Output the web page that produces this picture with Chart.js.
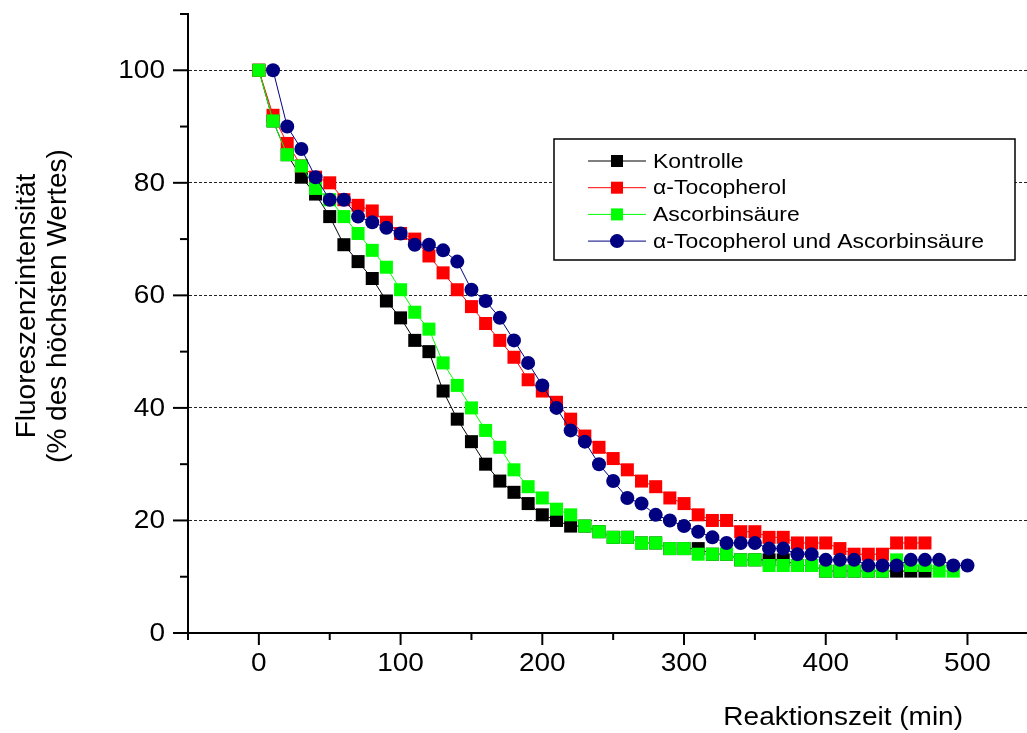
<!DOCTYPE html>
<html lang="de">
<head>
<meta charset="utf-8">
<title>Fluoreszenzintensität</title>
<script src="https://cdn.jsdelivr.net/npm/chart.js@4.4.1/dist/chart.umd.min.js"></script>
<style>
  html, body { margin: 0; padding: 0; background: #fff; overflow: hidden; }
  #wrap { width: 1027px; height: 733px; }
</style>
</head>
<body>
<div id="wrap"><canvas id="fluoChart" width="1027" height="733"></canvas></div>
<script>
// Reaktionszeit in min
const zeit = [0, 10, 20, 30, 40, 50, 60, 70, 80, 90,
  100, 110, 120, 130, 140, 150, 160, 170, 180, 190,
  200, 210, 220, 230, 240, 250, 260, 270, 280, 290,
  300, 310, 320, 330, 340, 350, 360, 370, 380, 390,
  400, 410, 420, 430, 440, 450, 460, 470, 480, 490, 500];

const kontrolle = [100, 91, 85, 81, 78, 74, 69, 66, 63, 59,
  56, 52, 50, 43, 38, 34, 30, 27, 25, 23,
  21, 20, 19, 19, 18, 17, 17, 16, 16, 15,
  15, 15, 14, 14, 13, 13, 13, 13, 12, 12,
  11, 11, 11, 11, 11, 11, 11, 11, null, null, null];

const tocopherol = [100, 92, 87, 83, 81, 80, 77, 76, 75, 73,
  71, 70, 67, 64, 61, 58, 55, 52, 49, 45,
  43, 41, 38, 35, 33, 31, 29, 27, 26, 24,
  23, 21, 20, 20, 18, 18, 17, 17, 16, 16,
  16, 15, 14, 14, 14, 16, 16, 16, null, null, null];

const ascorbin = [100, 91, 85, 83, 79, 77, 74, 71, 68, 65,
  61, 57, 54, 48, 44, 40, 36, 33, 29, 26,
  24, 22, 21, 19, 18, 17, 17, 16, 16, 15,
  15, 14, 14, 14, 13, 13, 12, 12, 12, 12,
  11, 11, 11, 11, 11, 13, 12, 12, 11, 11, null];

const tocoUndAscorbin = [null, 100, 90, 86, 81, 77, 77, 74, 73, 72,
  71, 69, 69, 68, 66, 61, 59, 56, 52, 48,
  44, 40, 36, 34, 30, 27, 24, 23, 21, 20,
  19, 18, 17, 16, 16, 16, 15, 15, 14, 14,
  13, 13, 13, 12, 12, 12, 13, 13, 13, 12, 12];

const serienNamen = ['Kontrolle', 'α-Tocopherol', 'Ascorbinsäure', 'α-Tocopherol und Ascorbinsäure'];
const serienFarben = ['#000000', '#ff0000', '#00ff00', '#000080'];
const serienSymbole = ['rect', 'rect', 'rect', 'circle'];

const xHauptTicks = [0, 100, 200, 300, 400, 500];
const xNebenTicks = [-50, 50, 150, 250, 350, 450];
const yHauptTicks = [0, 20, 40, 60, 80, 100];
const yNebenTicks = [10, 30, 50, 70, 90, 110];

const xTitel = 'Reaktionszeit (min)';
const yTitel = ['Fluoreszenzintensität', '(% des höchsten Wertes)'];

const schrift = '"Liberation Sans", Arial, Helvetica, sans-serif';
const streckung = 1.12; // Text im Original etwas in die Breite gezogen

function punkte(werte) {
  return zeit.map((t, i) => ({ x: t, y: werte[i] }));
}

// Ticks, Beschriftungen, Achsentitel und Legende selbst zeichnen
const achsenPlugin = {
  id: 'achsen',
  afterDraw(chart) {
    const ctx = chart.ctx;
    const xs = chart.scales.x;
    const ys = chart.scales.y;
    const area = chart.chartArea;

    const strich = (x1, y1, x2, y2) => {
      ctx.beginPath();
      ctx.moveTo(x1, y1);
      ctx.lineTo(x2, y2);
      ctx.stroke();
    };
    const text = (t, x, y, align) => {
      ctx.save();
      ctx.translate(x, y);
      ctx.scale(streckung, 1);
      ctx.textAlign = align;
      ctx.fillText(t, 0, 0);
      ctx.restore();
    };

    ctx.save();
    ctx.strokeStyle = '#000';
    ctx.lineWidth = 2;
    yHauptTicks.forEach(v => { const py = ys.getPixelForValue(v); strich(area.left - 15, py, area.left, py); });
    yNebenTicks.forEach(v => { const py = ys.getPixelForValue(v); strich(area.left - 8, py, area.left, py); });
    xHauptTicks.forEach(v => { const px = xs.getPixelForValue(v); strich(px, area.bottom, px, area.bottom + 12); });
    xNebenTicks.forEach(v => { const px = xs.getPixelForValue(v); strich(px, area.bottom, px, area.bottom + 7); });

    // Tickbeschriftungen
    ctx.fillStyle = '#000';
    ctx.textBaseline = 'middle';
    ctx.font = '25px ' + schrift;
    yHauptTicks.forEach(v => text(String(v), area.left - 23, ys.getPixelForValue(v) + 1, 'right'));
    xHauptTicks.forEach(v => text(String(v), xs.getPixelForValue(v), area.bottom + 31, 'center'));

    // Achsentitel
    ctx.font = '25px ' + schrift;
    text(xTitel, 963, 718, 'right');

    ctx.save();
    ctx.font = '28px ' + schrift;
    ctx.translate(42, 306);
    ctx.rotate(-Math.PI / 2);
    ctx.textAlign = 'center';
    ctx.fillText(yTitel[0], 0, -15);
    ctx.fillText(yTitel[1], 0, 16);
    ctx.restore();

    // Legende
    const lx = 554, ly = 139, lw = 461, lh = 121;
    ctx.fillStyle = '#fff';
    ctx.fillRect(lx, ly, lw, lh);
    ctx.lineWidth = 1.5;
    ctx.strokeStyle = '#000';
    ctx.strokeRect(lx, ly, lw, lh);

    ctx.font = '20.5px ' + schrift;
    chart.data.datasets.forEach((ds, i) => {
      const y = ly + 22 + i * 26.7;
      ctx.strokeStyle = ds.borderColor;
      ctx.lineWidth = 1;
      strich(588, y, 646, y);
      ctx.fillStyle = ds.pointBackgroundColor;
      if (ds.pointStyle === 'circle') {
        ctx.beginPath();
        ctx.arc(617, y, 7, 0, Math.PI * 2);
        ctx.fill();
      } else {
        ctx.fillRect(611, y - 6, 12, 12);
      }
      ctx.fillStyle = '#000';
      text(ds.label, 653, y + 1, 'left');
    });
    ctx.restore();
  }
};

const datenreihen = [kontrolle, tocopherol, ascorbin, tocoUndAscorbin];
const reihenfolge = [3, 2, 1, 0];

const datasets = datenreihen.map((werte, i) => ({
  label: serienNamen[i],
  data: punkte(werte),
  borderColor: serienFarben[i],
  backgroundColor: serienFarben[i],
  pointBackgroundColor: serienFarben[i],
  pointBorderColor: serienFarben[i],
  pointBorderWidth: 0,
  pointStyle: serienSymbole[i],
  pointRadius: serienSymbole[i] === 'circle' ? 7 : 9.2,
  borderWidth: 1,
  tension: 0,
  fill: false,
  order: reihenfolge[i]
}));

function festeGroesse(breite, hoehe) {
  return s => {
    if (breite) s.width = breite;
    if (hoehe) s.height = hoehe;
    s.paddingTop = 0;
    s.paddingBottom = 0;
    s.paddingLeft = 0;
    s.paddingRight = 0;
  };
}

const chart = new Chart(document.getElementById('fluoChart'), {
  type: 'line',
  data: { datasets: datasets },
  options: {
    responsive: false,
    animation: false,
    layout: { autoPadding: false, padding: { top: 14, right: 0, left: 0, bottom: 0 } },
    plugins: {
      legend: { display: false },
      tooltip: { enabled: false }
    },
    scales: {
      x: {
        type: 'linear',
        min: -50,
        max: 542,
        afterFit: festeGroesse(0, 100),
        border: { display: true, color: '#000', width: 2 },
        grid: { display: false, drawTicks: false },
        ticks: { display: false, stepSize: 50, includeBounds: false }
      },
      y: {
        min: 0,
        max: 110,
        afterFit: festeGroesse(188, 0),
        border: { display: true, color: '#000', width: 2, dash: [3, 2] },
        grid: {
          drawTicks: false,
          lineWidth: 1,
          color: c => (c.tick && c.tick.value > 0 && c.tick.value % 20 === 0 && c.tick.value <= 100 ? '#222' : 'rgba(0,0,0,0)')
        },
        ticks: { display: false, stepSize: 10 }
      }
    }
  },
  plugins: [achsenPlugin]
});
</script>
</body>
</html>
